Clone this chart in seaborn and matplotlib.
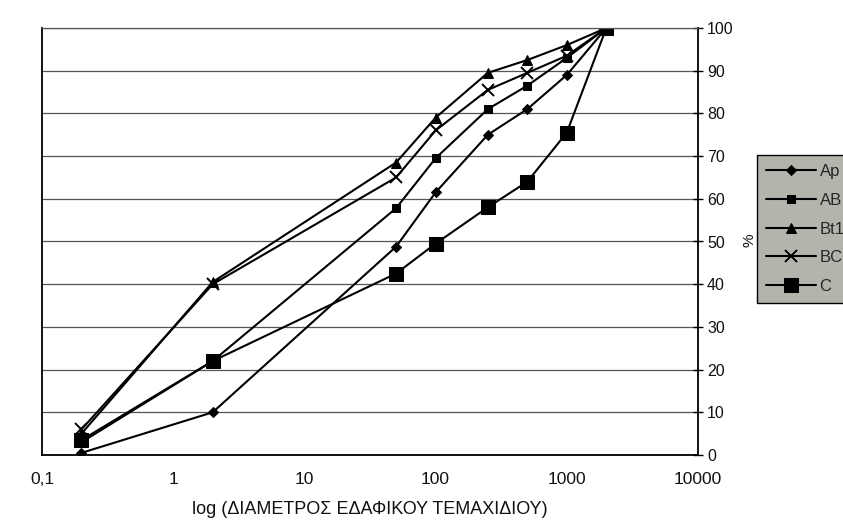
import numpy as np
import pandas as pd
import matplotlib
matplotlib.use("Agg")
import matplotlib.pyplot as plt
import seaborn as sns
from matplotlib.ticker import FixedLocator, FixedFormatter, NullLocator

# Particle diameter (log scale) and cumulative percentage per soil horizon
diameter = [0.2, 2, 50, 100, 250, 500, 1000, 2000]
ap = [0.5, 10, 48.8, 61.5, 75, 81, 89, 100]
ab = [3, 22, 57.8, 69.5, 81, 86.5, 93, 100]
bt1 = [5, 40.5, 68.5, 79, 89.5, 92.5, 96, 100]
bc = [6, 40, 65, 76, 85.5, 89.5, 93.5, 100]
c = [3.5, 22, 42.5, 49.5, 58, 64, 75.5, 100]

horizons = ["Ap", "AB", "Bt1", "BC", "C"]
x_ticks = [0.1, 1, 10, 100, 1000, 10000]
x_tick_labels = ["0,1", "1", "10", "100", "1000", "10000"]
y_ticks = [0, 10, 20, 30, 40, 50, 60, 70, 80, 90, 100]

df = pd.DataFrame({
    "diameter": diameter * 5,
    "percent": ap + ab + bt1 + bc + c,
    "horizon": np.repeat(horizons, len(diameter)),
})

sns.set_theme(style="white")
plt.rcParams["font.family"] = ["Liberation Sans", "DejaVu Sans"]

fig = plt.figure(figsize=(8.43, 5.24), dpi=100)
ax = fig.add_axes([42 / 843, 1 - 455 / 524, (698 - 42) / 843, (455 - 28) / 524])

styles = {
    "Ap": dict(marker="D", markersize=5.5),
    "AB": dict(marker="s", markersize=5.5),
    "Bt1": dict(marker="^", markersize=7),
    "BC": dict(marker="x", markersize=8.5, markeredgewidth=1.4),
    "C": dict(marker="s", markersize=10),
}

for h in horizons:
    sub = df[df["horizon"] == h]
    sns.lineplot(data=sub, x="diameter", y="percent", ax=ax, color="black",
                 linewidth=1.5, label=h, markeredgecolor="black",
                 markerfacecolor="black", **styles[h])

ax.set_xscale("log")
ax.set_xlim(0.1, 10000)
ax.set_ylim(0, 100)

ax.xaxis.set_major_locator(FixedLocator(x_ticks))
ax.xaxis.set_major_formatter(FixedFormatter(x_tick_labels))
ax.xaxis.set_minor_locator(NullLocator())
ax.set_yticks(y_ticks)
ax.set_yticklabels([str(v) for v in y_ticks])

ax.yaxis.tick_right()
ax.yaxis.set_label_position("right")
ax.tick_params(axis="y", which="major", direction="inout", length=7, width=1,
               color="black", pad=3, labelsize=11.5, labelcolor="#111111",
               left=False, right=True)
ax.tick_params(axis="x", which="major", direction="inout", length=6, width=1,
               color="black", pad=9, labelsize=12.5, labelcolor="#111111")

ax.yaxis.grid(True, color="#555555", linewidth=0.9)
ax.xaxis.grid(False)

for side in ["left", "right", "bottom"]:
    ax.spines[side].set_visible(True)
    ax.spines[side].set_color("black")
    ax.spines[side].set_linewidth(1.3)
ax.spines["top"].set_color("#555555")
ax.spines["top"].set_linewidth(0.9)

ax.set_xlabel("log (ΔΙΑΜΕΤΡΟΣ ΕΔΑΦΙΚΟΥ ΤΕΜΑΧΙΔΙΟΥ)", fontsize=13,
              color="#111111", labelpad=10)
ax.set_ylabel("")
fig.text(749 / 843, 1 - 240 / 524, "%", rotation=90, fontsize=11,
         ha="center", va="center", color="#111111")

handles, labels = ax.get_legend_handles_labels()
if ax.legend_:
    ax.legend_.remove()
leg = fig.legend(handles, labels, loc="upper left",
                 bbox_to_anchor=(757 / 843, 1 - 155 / 524),
                 frameon=True, fancybox=False, facecolor="#b3b4ab",
                 edgecolor="black", framealpha=1, fontsize=12,
                 handlelength=3.0, handletextpad=0.2, labelspacing=0.82,
                 borderpad=0.55, borderaxespad=0)
leg.get_frame().set_linewidth(1.0)

fig.savefig("out.png", dpi=100, facecolor="white")
